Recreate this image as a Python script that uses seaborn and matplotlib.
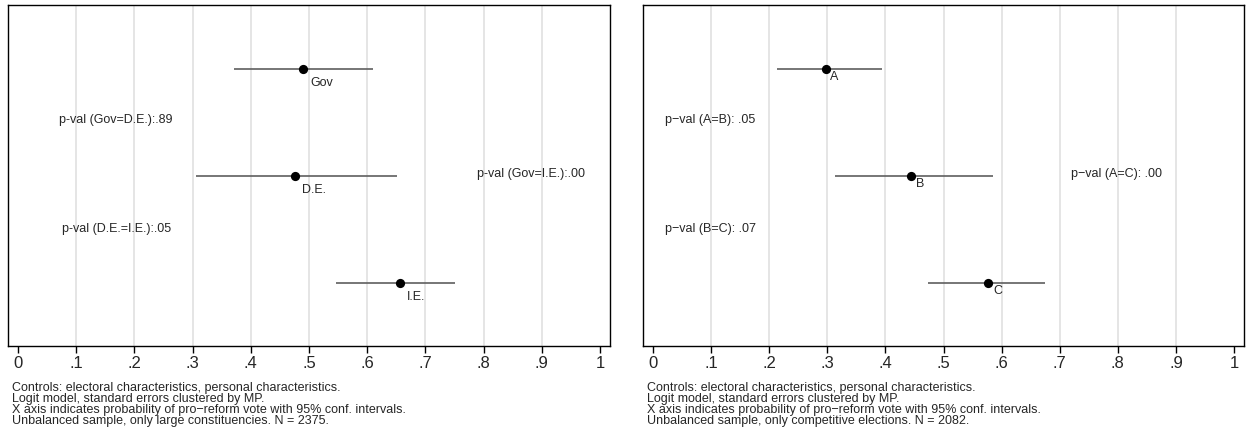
import matplotlib
matplotlib.use("Agg")
import matplotlib.pyplot as plt
import seaborn as sns
import pandas as pd

# Left panel: government / direct / indirect elections
left_groups = ["Gov", "D.E.", "I.E."]
left_est = [0.490, 0.476, 0.656]
left_lo = [0.372, 0.306, 0.547]
left_hi = [0.610, 0.652, 0.751]
left_pvals = ["p-val (Gov=D.E.):.89", "p-val (D.E.=I.E.):.05", "p-val (Gov=I.E.):.00"]
left_note = ("Controls: electoral characteristics, personal characteristics.\n"
             "Logit model, standard errors clustered by MP.\n"
             "X axis indicates probability of pro\u2212reform vote with 95% conf. intervals.\n"
             "Unbalanced sample, only large constituencies. N = 2375.")

# Right panel: groups A, B, C
right_groups = ["A", "B", "C"]
right_est = [0.297, 0.444, 0.577]
right_lo = [0.214, 0.314, 0.474]
right_hi = [0.394, 0.585, 0.674]
right_pvals = ["p\u2212val (A=B): .05", "p\u2212val (B=C): .07", "p\u2212val (A=C): .00"]
right_note = ("Controls: electoral characteristics, personal characteristics.\n"
              "Logit model, standard errors clustered by MP.\n"
              "X axis indicates probability of pro\u2212reform vote with 95% conf. intervals.\n"
              "Unbalanced sample, only competitive elections. N = 2082.")

xticks = [0, .1, .2, .3, .4, .5, .6, .7, .8, .9, 1]
xtick_labels = ["0", ".1", ".2", ".3", ".4", ".5", ".6", ".7", ".8", ".9", "1"]

sns.set_style("white")
plt.rcParams["font.family"] = ["Liberation Sans", "DejaVu Sans"]

fig = plt.figure(figsize=(12.46, 4.34), dpi=100)
ax1 = fig.add_axes([8 / 1246, 1 - 346 / 434, 602 / 1246, 341 / 434])
ax2 = fig.add_axes([643 / 1246, 1 - 346 / 434, 601 / 1246, 341 / 434])


def draw_panel(ax, groups, est, lo, hi, pvals, pval_x, note, lab_off):
    df = pd.DataFrame({"group": groups, "est": est, "lo": lo, "hi": hi,
                       "ypos": [3, 2, 1]})
    ax.hlines(df["ypos"], df["lo"], df["hi"], color="#5f5f5f", lw=1.2, zorder=2)
    sns.scatterplot(data=df, x="est", y="ypos", ax=ax, color="black", s=44,
                    edgecolor="black", linewidth=0, zorder=3, legend=False)
    for _, r in df.iterrows():
        ax.annotate(r["group"], (r["est"], r["ypos"]), xytext=lab_off,
                    textcoords="offset points", ha="left", va="center", fontsize=9)
    # p-value notes: between 1st/2nd, between 2nd/3rd, and 1st vs 3rd on the right
    ax.text(pval_x[0], 2.52, pvals[0], ha="left", va="center", fontsize=9)
    ax.text(pval_x[1], 1.50, pvals[1], ha="left", va="center", fontsize=9)
    ax.text(pval_x[2], 2.02, pvals[2], ha="left", va="center", fontsize=9)

    ax.set_xlim(-0.017, 1.017)
    ax.set_ylim(0.41, 3.60)
    ax.set_xticks(xticks)
    ax.set_xticklabels(xtick_labels, fontsize=12)
    ax.set_yticks([])
    ax.set_xlabel("")
    ax.set_ylabel("")
    ax.grid(axis="x", color="#dedede", lw=1.1)
    gl = ax.xaxis.get_gridlines()
    gl[0].set_visible(False)
    gl[-1].set_visible(False)
    ax.set_axisbelow(True)
    ax.tick_params(axis="x", bottom=True, direction="out", length=5, width=1,
                   color="black", pad=2)
    for sp in ax.spines.values():
        sp.set_visible(True)
        sp.set_color("black")
        sp.set_linewidth(1.0)
    ax.text(0.006, -0.105, note, transform=ax.transAxes, ha="left", va="top",
            fontsize=9, linespacing=0.88)


draw_panel(ax1, left_groups, left_est, left_lo, left_hi, left_pvals,
           [0.071, 0.076, 0.788], left_note, (5, -10))
draw_panel(ax2, right_groups, right_est, right_lo, right_hi, right_pvals,
           [0.020, 0.020, 0.720], right_note, (3.5, -6))

fig.savefig("out.png", dpi=100)
